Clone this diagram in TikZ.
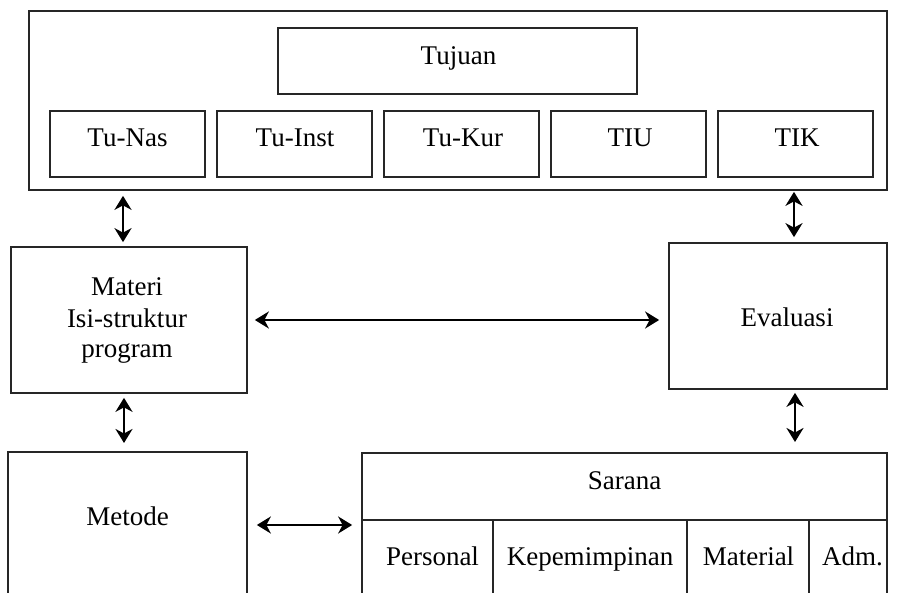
\documentclass[tikz,border=0pt]{standalone}
\usepackage{fontspec}
\setmainfont{Liberation Serif}
\usetikzlibrary{arrows.meta,calc}
\tikzset{
  box/.style={draw=black!85, line width=1.7pt, rectangle, inner sep=0pt},
  lbl/.style={inner sep=0pt, align=center, anchor=base},
  arr/.style={line width=2.6pt, {Stealth[length=14pt,width=17pt,inset=4.5pt]}-{Stealth[length=14pt,width=17pt,inset=4.5pt]}}
}
\begin{document}
\begin{tikzpicture}[x=1pt,y=-1pt, font=\fontsize{27}{31}\selectfont]
\clip (0,0) rectangle (898,593);
\fill[white] (0,0) rectangle (898,593);
% top group
\node[box, minimum width=858, minimum height=179] (top) at (458,100.5) {};
\node[box, minimum width=359, minimum height=66] (tujuan) at (457.5,61) {};
\node[box, minimum width=155, minimum height=66] (tunas) at (127.5,144) {};
\node[box, minimum width=155, minimum height=66] (tuinst) at (294.5,144) {};
\node[box, minimum width=155, minimum height=66] (tukur) at (461.5,144) {};
\node[box, minimum width=155, minimum height=66] (tiu) at (628.5,144) {};
\node[box, minimum width=155, minimum height=66] (tik) at (795.5,144) {};
\node[lbl] (tujuantxt) at (458.5,65) {Tujuan};
\node[lbl] (tunastxt) at (127.5,147) {Tu-Nas};
\node[lbl] (tuinsttxt) at (295,147) {Tu-Inst};
\node[lbl] (tukurtxt) at (463,147) {Tu-Kur};
\node[lbl] (tiutxt) at (630,147) {TIU};
\node[lbl] (tiktxt) at (797,147) {TIK};
% middle
\node[box, minimum width=236, minimum height=146] (materi) at (129,320) {};
\node[box, minimum width=218, minimum height=146] (evaluasi) at (778,316) {};
\node[lbl] (m1) at (127,296) {Materi};
\node[lbl] (m2) at (127,328) {Isi-struktur};
\node[lbl] (m3) at (127,358) {program};
\node[lbl] (evaltxt) at (787,327) {Evaluasi};
% bottom
\node[box, minimum width=239, minimum height=250, anchor=north] (metode) at (127.5,451) {};
\node[lbl] (metodetxt) at (127.5,526) {Metode};
\node[box, minimum width=525, minimum height=67, anchor=north] (sarana) at (624.5,452) {};
\node[lbl] (saranatxt) at (624.5,490) {Sarana};
\node[box, minimum width=131, minimum height=200, anchor=north] (personal) at (427.5,519) {};
\node[box, minimum width=194, minimum height=200, anchor=north] (kepem) at (590,519) {};
\node[box, minimum width=122, minimum height=200, anchor=north] (material) at (748,519) {};
\node[box, minimum width=78, minimum height=200, anchor=north] (adm) at (848,519) {};
\node[lbl] (personaltxt) at (432.5,566) {Personal};
\node[lbl] (kepemtxt) at (590,566) {Kepemimpinan};
\node[lbl] (materialtxt) at (748.5,566) {Material};
\node[lbl] (admtxt) at (852.5,566) {Adm.};
% connectors
\draw[arr] ($(top.south -| 123,0)+(0,5)$) -- ($(materi.north -| 123,0)+(0,-4)$);
\draw[arr] ($(top.south -| 794,0)+(0,1)$) -- ($(evaluasi.north -| 794,0)+(0,-5)$);
\draw[arr] ($(materi.south -| 124,0)+(0,4)$) -- ($(metode.north -| 124,0)+(0,-8)$);
\draw[arr] ($(evaluasi.south -| 795,0)+(0,3)$) -- ($(sarana.north -| 795,0)+(0,-10)$);
\draw[arr] ($(materi.east |- 0,320)+(7,0)$) -- ($(evaluasi.west |- 0,320)+(-9,0)$);
\draw[arr] ($(metode.east |- 0,525)+(9,0)$) -- ($(sarana.west |- 0,525)+(-9,0)$);
\end{tikzpicture}
\end{document}
